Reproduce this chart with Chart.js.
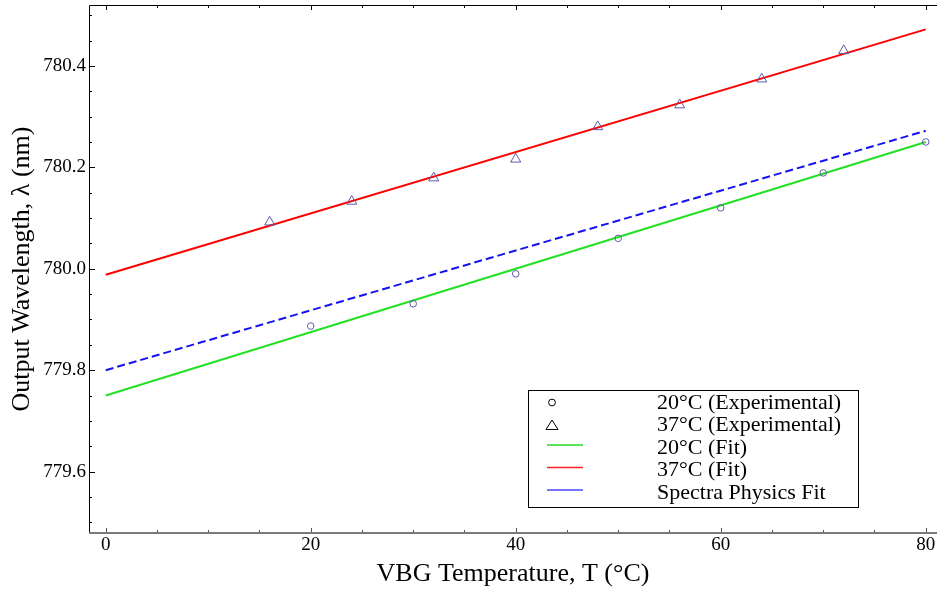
<!DOCTYPE html>
<html>
<head>
<meta charset="utf-8">
<title>VBG temperature tuning</title>
<script src="https://cdn.jsdelivr.net/npm/chart.js@4.4.1/dist/chart.umd.min.js"></script>
<style>
    html, body { margin: 0; padding: 0; background: #fff; overflow: hidden; }
    canvas { display: block; }
</style>
</head>
<body>
<canvas id="chartVbg" width="937" height="590"></canvas>
<script>
const temps20 = [20, 30, 40, 50, 60, 70, 80];
const wavelength20 = [779.887, 779.931, 779.990, 780.060, 780.120, 780.189, 780.250];
const temps37 = [16, 24, 32, 40, 48, 56, 64, 72];
const wavelength37 = [780.092, 780.133, 780.179, 780.216, 780.280, 780.323, 780.374, 780.430];

// straight fits, end points only
const fitTemps = [0, 80];
const fit20 = [779.750, 780.250];
const fit37 = [779.988, 780.472];
const fitSpectra = [779.800, 780.272];

const xTicks = [0, 20, 40, 60, 80];
const yTicks = [779.6, 779.8, 780.0, 780.2, 780.4];
const seriesLabels = ['20°C (Experimental)', '37°C (Experimental)', '20°C (Fit)', '37°C (Fit)', 'Spectra Physics Fit'];

const serif = "'Liberation Serif', 'Times New Roman', serif";
const markerColor = '#5c5cab';

function toPoints(xs, ys) {
    return xs.map((x, i) => ({x: x, y: ys[i]}));
}

function minorTicks(from, to, step) {
    const list = [];
    for (let i = 0; from + i * step <= to + 1e-9; i++) {
        list.push(+(from + i * step).toFixed(3));
    }
    return list;
}

// the layout otherwise reserves room for half a tick label at each end
function noLabelPadding(scale) {
    scale.paddingTop = 0;
    scale.paddingBottom = 0;
    scale.paddingLeft = 0;
    scale.paddingRight = 0;
}

// box + inward tick marks
const framePlugin = {
    id: 'frame',
    afterDatasetsDraw(chart) {
        const {ctx, chartArea: a, scales} = chart;
        const xs = scales.x, ys = scales.y;
        ctx.save();

        ctx.strokeStyle = '#000';
        ctx.lineWidth = 1;
        ctx.beginPath();
        ctx.moveTo(a.left + 0.5, a.bottom);
        ctx.lineTo(a.left + 0.5, a.top + 0.5);
        ctx.lineTo(a.right, a.top + 0.5);
        ctx.stroke();

        minorTicks(0, 80, 5).forEach(v => {
            const px = Math.round(xs.getPixelForValue(v)) + 0.5;
            const len = xTicks.includes(v) ? 5 : 3;
            ctx.strokeStyle = '#000';
            ctx.beginPath();
            ctx.moveTo(px, a.top);
            ctx.lineTo(px, a.top + len);
            ctx.stroke();
            ctx.strokeStyle = '#555';
            ctx.beginPath();
            ctx.moveTo(px, a.bottom);
            ctx.lineTo(px, a.bottom - len);
            ctx.stroke();
        });

        ctx.strokeStyle = '#000';
        minorTicks(779.5, 780.5, 0.05).forEach(v => {
            const py = Math.round(ys.getPixelForValue(v)) + 0.5;
            const major = yTicks.some(t => Math.abs(t - v) < 1e-6);
            ctx.beginPath();
            ctx.moveTo(a.left, py);
            ctx.lineTo(a.left + (major ? 6 : 3), py);
            ctx.stroke();
        });

        ctx.strokeStyle = '#7a7a7a';
        ctx.lineWidth = 2;
        ctx.beginPath();
        ctx.moveTo(a.left, a.bottom);
        ctx.lineTo(a.right, a.bottom);
        ctx.stroke();
        ctx.restore();
    }
};

const legendPlugin = {
    id: 'boxLegend',
    afterDraw(chart) {
        const ctx = chart.ctx;
        const box = {left: 528.5, top: 390.5, width: 330, height: 117};
        const symbolX = 552, lineFrom = 547, lineTo = 583, textX = 657;
        const firstRow = 402.5, rowGap = 22.5;
        const lineColors = ['#22dd22', '#ff2020', '#7474ff'];

        ctx.save();
        ctx.fillStyle = '#fff';
        ctx.fillRect(box.left, box.top, box.width, box.height);
        ctx.strokeStyle = '#000';
        ctx.lineWidth = 1;
        ctx.strokeRect(box.left, box.top, box.width, box.height);

        seriesLabels.forEach((label, i) => {
            const cy = firstRow + i * rowGap;
            ctx.strokeStyle = '#000';
            ctx.lineWidth = 1;
            if (i === 0) {
                ctx.beginPath();
                ctx.arc(symbolX, cy, 3.4, 0, Math.PI * 2);
                ctx.stroke();
            } else if (i === 1) {
                ctx.beginPath();
                ctx.moveTo(symbolX, cy - 5);
                ctx.lineTo(symbolX + 6, cy + 4.5);
                ctx.lineTo(symbolX - 6, cy + 4.5);
                ctx.closePath();
                ctx.stroke();
            } else {
                ctx.strokeStyle = lineColors[i - 2];
                ctx.lineWidth = i === 4 ? 2 : 1.3;
                ctx.beginPath();
                ctx.moveTo(lineFrom, cy - 2.5);
                ctx.lineTo(lineTo, cy - 2.5);
                ctx.stroke();
            }
            ctx.fillStyle = '#000';
            ctx.font = '22px ' + serif;
            ctx.textBaseline = 'alphabetic';
            ctx.textAlign = 'left';
            ctx.fillText(label, textX, cy + 6);
        });
        ctx.restore();
    }
};

const tickFont = {family: serif, size: 19};
const titleFont = {family: serif, size: 26};

new Chart(document.getElementById('chartVbg'), {
    type: 'scatter',
    data: {
        datasets: [
            {
                label: seriesLabels[0],
                data: toPoints(temps20, wavelength20),
                pointStyle: 'circle',
                pointRadius: 3.3,
                borderColor: markerColor,
                backgroundColor: 'rgba(0,0,0,0)',
                borderWidth: 1,
                showLine: false
            },
            {
                label: seriesLabels[1],
                data: toPoints(temps37, wavelength37),
                pointStyle: 'triangle',
                pointRadius: 5.8,
                borderColor: markerColor,
                backgroundColor: 'rgba(0,0,0,0)',
                borderWidth: 1,
                showLine: false
            },
            {
                label: seriesLabels[2],
                data: toPoints(fitTemps, fit20),
                borderColor: '#22e022',
                borderWidth: 2,
                pointRadius: 0,
                showLine: true
            },
            {
                label: seriesLabels[3],
                data: toPoints(fitTemps, fit37),
                borderColor: '#ff0000',
                borderWidth: 2,
                pointRadius: 0,
                showLine: true
            },
            {
                label: seriesLabels[4],
                data: toPoints(fitTemps, fitSpectra),
                borderColor: '#1414f0',
                borderWidth: 2,
                borderDash: [8, 4],
                pointRadius: 0,
                showLine: true
            }
        ]
    },
    options: {
        responsive: false,
        animation: false,
        layout: {autoPadding: false, padding: {top: 5, right: 0, bottom: 0, left: 0}},
        plugins: {
            legend: {display: false},
            tooltip: {enabled: false}
        },
        scales: {
            x: {
                type: 'linear',
                min: -1.63,
                max: 81.1,
                grid: {display: false, drawTicks: false},
                border: {display: false},
                ticks: {
                    font: tickFont,
                    color: '#000',
                    padding: 1,
                    maxRotation: 0,
                    autoSkip: false
                },
                afterBuildTicks: scale => {
                    scale.ticks = xTicks.map(v => ({value: v}));
                },
                afterFit: scale => {
                    scale.height = 57;
                    noLabelPadding(scale);
                },
                title: {
                    display: true,
                    text: 'VBG Temperature, T (°C)',
                    font: titleFont,
                    color: '#000',
                    padding: {top: 2, bottom: 0}
                }
            },
            y: {
                type: 'linear',
                min: 779.479,
                max: 780.52,
                grid: {display: false, drawTicks: false},
                border: {display: false},
                ticks: {
                    font: tickFont,
                    color: '#000',
                    padding: 3,
                    callback: v => v.toFixed(1)
                },
                afterBuildTicks: scale => {
                    scale.ticks = yTicks.map(v => ({value: v}));
                },
                afterFit: scale => {
                    scale.width = 89;
                    noLabelPadding(scale);
                },
                title: {
                    display: true,
                    text: 'Output Wavelength, \u03bb (nm)',
                    font: titleFont,
                    color: '#000',
                    padding: {top: 7, bottom: 0}
                }
            }
        }
    },
    plugins: [framePlugin, legendPlugin]
});
</script>
</body>
</html>
